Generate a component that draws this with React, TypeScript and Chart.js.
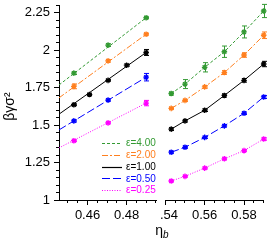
import React, { useEffect, useRef } from 'react';
import { Chart, registerables } from 'chart.js';
Chart.register(...registerables);

// ---------- data ----------
const seriesLabels = ['ε=4.00', 'ε=2.00', 'ε=1.00', 'ε=0.50', 'ε=0.25'];

const yRange = [1, 2.3];
const yTicks = [1, 1.25, 1.5, 1.75, 2, 2.25];
const yTickLabels = ['1', '1.25', '1.5', '1.75', '2', '2.25'];

const leftXRange = [0.4454, 0.4954];
const leftXTicks = [0.46, 0.48];
const leftXTickLabels = ['0.46', '0.48'];
const rightXRange = [0.54, 0.59];
const rightXTicks = [0.54, 0.56, 0.58];
const rightXTickLabels = ['0.54', '0.56', '0.58'];

// left panel (measured points)
const leftEtaA = [0.453, 0.4705, 0.49];
const leftEtaB = [0.453, 0.461, 0.4705, 0.48, 0.49];
const leftE400 = [1.847, 2.034, 2.217];
const leftE400Err = [0.009, 0.009, 0.006];
const leftE200 = [1.759, 1.929, 2.107];
const leftE200Err = [0.016, 0.008, 0.006];
const leftE100 = [1.636, 1.704, 1.799, 1.9, 1.985];
const leftE100Err = [0.006, 0.006, 0.006, 0.006, 0.02];
const leftE050 = [1.528, 1.667, 1.82];
const leftE050Err = [0.007, 0.007, 0.025];
const leftE025 = [1.396, 1.515, 1.647];
const leftE025Err = [0.006, 0.006, 0.018];

// left panel fit lines (value at ends)
const leftFitEta = [0.4454, 0.49];
const leftFit400 = [1.768, 2.217];
const leftFit200 = [1.682, 2.107];
const leftFit100 = [1.573, 1.985];
const leftFit050 = [1.468, 1.82];
const leftFit025 = [1.348, 1.647];

// right panel
const rightEta = [0.543, 0.55, 0.56, 0.57, 0.58, 0.59];
const rightE400 = [1.711, 1.774, 1.886, 1.99, 2.122, 2.262];
const rightE400Err = [0.01, 0.03, 0.031, 0.038, 0.04, 0.044];
const rightE200 = [1.612, 1.665, 1.755, 1.851, 1.968, 2.1];
const rightE200Err = [0.007, 0.007, 0.008, 0.012, 0.015, 0.022];
const rightE100 = [1.473, 1.528, 1.599, 1.698, 1.799, 1.908];
const rightE100Err = [0.009, 0.007, 0.008, 0.01, 0.012, 0.018];
const rightE050 = [1.319, 1.352, 1.418, 1.495, 1.579, 1.688];
const rightE050Err = [0.007, 0.007, 0.007, 0.007, 0.008, 0.01];
const rightE025 = [1.127, 1.158, 1.213, 1.275, 1.33, 1.407];
const rightE025Err = [0.006, 0.006, 0.006, 0.006, 0.007, 0.008];

// ---------- styles ----------
const seriesColors = ['#339a33', '#ff7f1e', '#000000', '#0000ff', '#ff00ff'];
const seriesDash = [[3, 2], [6, 2, 2, 2], [], [8, 3], [1, 1.5]];
const FONT = '"Liberation Sans", Arial, Helvetica, sans-serif';

Chart.defaults.font.family = FONT;
Chart.defaults.color = '#000';

const pts = (xs: number[], ys: number[]) => xs.map((x, i) => ({ x, y: ys[i] }));

const errorBarPlugin = {
  id: 'errorBars',
  afterDatasetsDraw(chart: any) {
    const ctx = chart.ctx;
    const xs = chart.scales.x;
    const ys = chart.scales.y;
    chart.data.datasets.forEach((ds: any) => {
      if (!ds.errors) return;
      ctx.save();
      ctx.strokeStyle = ds.borderColor;
      ctx.lineWidth = 1;
      ctx.setLineDash([]);
      ds.data.forEach((p: any, i: number) => {
        const e = ds.errors[i];
        const px = Math.round(xs.getPixelForValue(p.x)) + 0.5;
        const y1 = ys.getPixelForValue(p.y + e);
        const y2 = ys.getPixelForValue(p.y - e);
        ctx.beginPath();
        ctx.moveTo(px, y1);
        ctx.lineTo(px, y2);
        ctx.moveTo(px - 2.5, y1);
        ctx.lineTo(px + 2.5, y1);
        ctx.moveTo(px - 2.5, y2);
        ctx.lineTo(px + 2.5, y2);
        ctx.stroke();
      });
      ctx.restore();
    });
  },
};

const legendPlugin = {
  id: 'innerLegend',
  afterDraw(chart: any) {
    const { ctx, chartArea } = chart;
    ctx.save();
    seriesLabels.forEach((label, i) => {
      const y = chartArea.top + 137.7 + i * 11.75;
      const x0 = chartArea.left + 43;
      ctx.strokeStyle = seriesColors[i];
      ctx.lineWidth = 1.2;
      ctx.setLineDash(seriesDash[i]);
      ctx.beginPath();
      ctx.moveTo(x0, Math.round(y) + 0.5);
      ctx.lineTo(x0 + 20, Math.round(y) + 0.5);
      ctx.stroke();
      ctx.setLineDash([]);
      ctx.fillStyle = seriesColors[i];
      ctx.font = '10px ' + FONT;
      ctx.textBaseline = 'middle';
      ctx.textAlign = 'left';
      ctx.fillText(label, x0 + 24, y + 0.5);
    });
    ctx.restore();
  },
};

function minorTicks(min: number, max: number, step: number) {
  const out: { value: number }[] = [];
  const start = Math.ceil(min / step - 1e-9);
  for (let k = start; k * step <= max + 1e-9; k++) out.push({ value: +(k * step).toFixed(4) });
  return out;
}

function xScales(range: number[], ticks: number[], labels: string[]) {
  return {
    x: {
      type: 'linear',
      position: 'bottom',
      weight: 1,
      min: range[0],
      max: range[1],
      afterBuildTicks: (s: any) => { s.ticks = ticks.map((v) => ({ value: v })); },
      afterFit: (s: any) => { s.height = 45; s.paddingLeft = 0; s.paddingRight = 0; },
      ticks: {
        autoSkip: false,
        maxRotation: 0,
        padding: 3,
        color: '#000',
        font: { size: 13, family: FONT },
        callback: (_v: any, i: number) => labels[i],
      },
      grid: { drawOnChartArea: false, tickLength: 5, color: '#000', lineWidth: 1 },
      border: { display: true, color: '#000', width: 1 },
    },
    xm: {
      type: 'linear',
      position: 'bottom',
      weight: 0,
      min: range[0],
      max: range[1],
      afterBuildTicks: (s: any) => { s.ticks = minorTicks(range[0], range[1], 0.005); },
      afterFit: (s: any) => { s.height = 0; s.paddingLeft = 0; s.paddingRight = 0; },
      ticks: { display: false, autoSkip: false },
      grid: { drawOnChartArea: false, tickLength: 3, color: '#000', lineWidth: 1 },
      border: { display: false },
    },
  };
}

function makeDatasets(lines: { x: number[]; y: number[] }[], points: { x: number[]; y: number[]; e: number[] }[]) {
  const ds: any[] = [];
  lines.forEach((l, i) => {
    ds.push({
      data: pts(l.x, l.y),
      showLine: true,
      borderColor: seriesColors[i],
      borderWidth: 1,
      borderDash: seriesDash[i],
      pointRadius: 0,
      fill: false,
      clip: false,
    });
  });
  points.forEach((p, i) => {
    ds.push({
      data: pts(p.x, p.y),
      showLine: false,
      borderColor: seriesColors[i],
      backgroundColor: seriesColors[i],
      pointStyle: 'star',
      pointRadius: 2.8,
      pointBorderWidth: 1.3,
      errors: p.e,
      clip: false,
    });
  });
  return ds;
}

export default function App() {
  const leftRef = useRef<HTMLCanvasElement>(null);
  const rightRef = useRef<HTMLCanvasElement>(null);

  useEffect(() => {
    const leftPoints = [
      { x: leftEtaA, y: leftE400, e: leftE400Err },
      { x: leftEtaA, y: leftE200, e: leftE200Err },
      { x: leftEtaB, y: leftE100, e: leftE100Err },
      { x: leftEtaA, y: leftE050, e: leftE050Err },
      { x: leftEtaA, y: leftE025, e: leftE025Err },
    ];
    const leftLines = [leftFit400, leftFit200, leftFit100, leftFit050, leftFit025].map((y) => ({ x: leftFitEta, y }));
    const rightPoints = [
      { x: rightEta, y: rightE400, e: rightE400Err },
      { x: rightEta, y: rightE200, e: rightE200Err },
      { x: rightEta, y: rightE100, e: rightE100Err },
      { x: rightEta, y: rightE050, e: rightE050Err },
      { x: rightEta, y: rightE025, e: rightE025Err },
    ];
    const rightLines = rightPoints.map((p) => ({ x: p.x, y: p.y }));

    const common: any = {
      responsive: false,
      animation: false,
      devicePixelRatio: 1,
      plugins: { legend: { display: false }, tooltip: { enabled: false } },
    };

    const left = new Chart(leftRef.current!, {
      type: 'scatter',
      data: { datasets: makeDatasets(leftLines, leftPoints) },
      options: {
        ...common,
        layout: { padding: { left: 0, top: 3, right: 3, bottom: 0 } },
        scales: {
          ...xScales(leftXRange, leftXTicks, leftXTickLabels),
          y: {
            type: 'linear',
            position: 'left',
            weight: 1,
            min: yRange[0],
            max: yRange[1],
            afterBuildTicks: (s: any) => { s.ticks = yTicks.map((v) => ({ value: v })); },
            afterFit: (s: any) => { s.width = 59; s.paddingTop = 0; s.paddingBottom = 0; },
            ticks: {
              autoSkip: false,
              padding: 4,
              color: '#000',
              font: { size: 13, family: FONT },
              callback: (_v: any, i: number) => yTickLabels[i],
            },
            title: {
              display: true,
              text: 'βγσ²  ',
              color: '#000',
              font: { size: 14, family: FONT },
              padding: { top: 2, bottom: 0 },
            },
            grid: { drawOnChartArea: false, tickLength: 5, color: '#000', lineWidth: 1 },
            border: { display: true, color: '#000', width: 1 },
          },
          ym: {
            type: 'linear',
            position: 'left',
            weight: 0,
            min: yRange[0],
            max: yRange[1],
            afterBuildTicks: (s: any) => { s.ticks = minorTicks(yRange[0], yRange[1], 0.05); },
            afterFit: (s: any) => { s.width = 0; s.paddingTop = 0; s.paddingBottom = 0; },
            ticks: { display: false, autoSkip: false },
            grid: { drawOnChartArea: false, tickLength: 3, color: '#000', lineWidth: 1 },
            border: { display: false },
          },
        },
      },
      plugins: [errorBarPlugin, legendPlugin],
    } as any);

    const right = new Chart(rightRef.current!, {
      type: 'scatter',
      data: { datasets: makeDatasets(rightLines, rightPoints) },
      options: {
        ...common,
        layout: { padding: { left: 5, top: 3, right: 4, bottom: 0 } },
        scales: {
          ...xScales(rightXRange, rightXTicks, rightXTickLabels),
          y: {
            type: 'linear',
            display: false,
            min: yRange[0],
            max: yRange[1],
          },
        },
      },
      plugins: [errorBarPlugin],
    } as any);

    return () => {
      left.destroy();
      right.destroy();
    };
  }, []);

  return (
    <div style={{ position: 'fixed', left: 0, top: 0, width: 269, height: 245, background: '#fff', overflow: 'hidden' }}>
      <canvas ref={leftRef} width={162} height={245} style={{ position: 'absolute', left: 0, top: 0 }} />
      <canvas ref={rightRef} width={109} height={245} style={{ position: 'absolute', left: 160, top: 0 }} />
      <div
        style={{
          position: 'absolute',
          left: 162,
          top: 222,
          transform: 'translateX(-50%)',
          fontFamily: FONT,
          fontSize: 14,
          lineHeight: '16px',
          color: '#000',
          whiteSpace: 'nowrap',
        }}
      >
        η<sub style={{ fontSize: 10, fontStyle: 'italic', verticalAlign: 'baseline', position: 'relative', top: 3 }}>b</sub>
      </div>
    </div>
  );
}
